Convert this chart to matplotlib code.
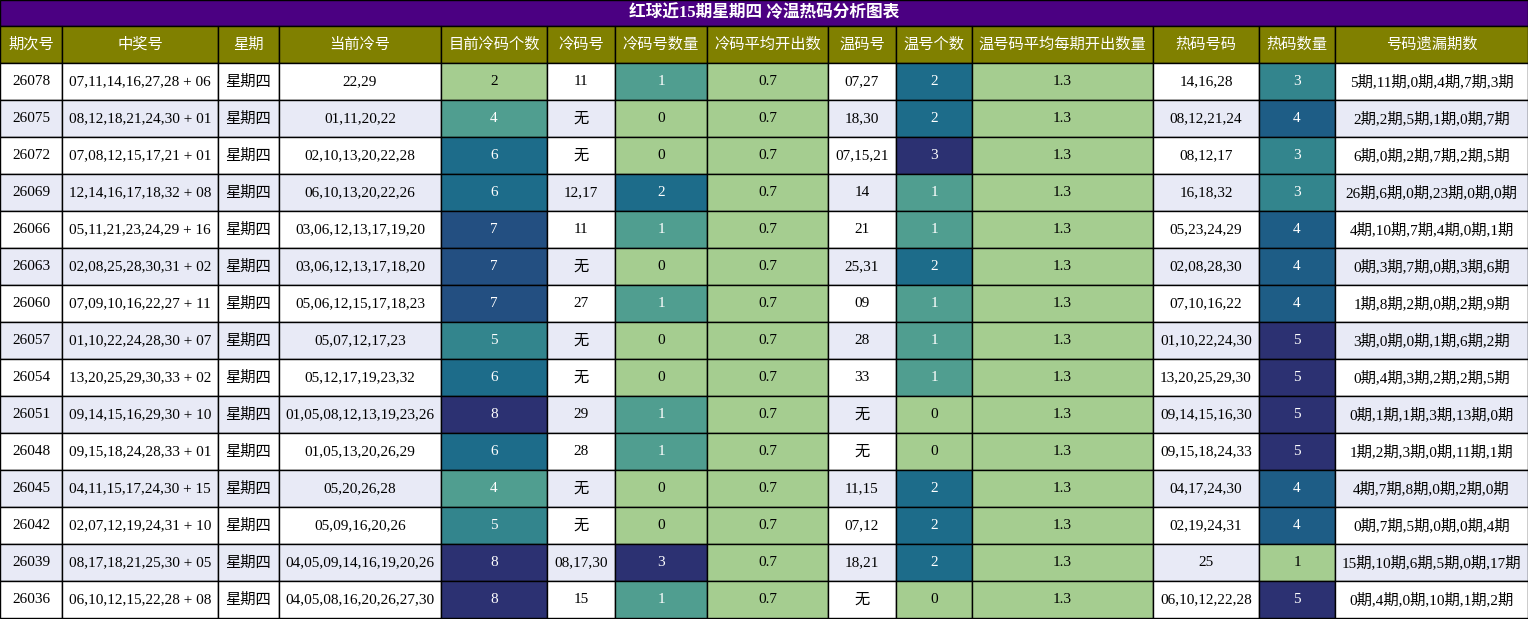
import matplotlib.pyplot as plt
import seaborn as sns
import numpy as np

plt.rcParams['font.family'] = ['Liberation Serif', 'Noto Sans CJK SC', 'DejaVu Sans']

title = "红球近15期星期四 冷温热码分析图表"
headers = ["期次号", "中奖号", "星期", "当前冷号", "目前冷码个数", "冷码号", "冷码号数量",
           "冷码平均开出数", "温码号", "温号个数", "温号码平均每期开出数量", "热码号码", "热码数量", "号码遗漏期数"]
col_edges = [0, 62, 218, 279, 441, 547, 615, 707, 828, 896, 972, 1153, 1259, 1335, 1528]

issues = ["26078", "26075", "26072", "26069", "26066", "26063", "26060", "26057",
          "26054", "26051", "26048", "26045", "26042", "26039", "26036"]
winning = ["07,11,14,16,27,28 + 06", "08,12,18,21,24,30 + 01", "07,08,12,15,17,21 + 01",
           "12,14,16,17,18,32 + 08", "05,11,21,23,24,29 + 16", "02,08,25,28,30,31 + 02",
           "07,09,10,16,22,27 + 11", "01,10,22,24,28,30 + 07", "13,20,25,29,30,33 + 02",
           "09,14,15,16,29,30 + 10", "09,15,18,24,28,33 + 01", "04,11,15,17,24,30 + 15",
           "02,07,12,19,24,31 + 10", "08,17,18,21,25,30 + 05", "06,10,12,15,22,28 + 08"]
weekday = ["星期四"] * 15
cold_now = ["22,29", "01,11,20,22", "02,10,13,20,22,28", "06,10,13,20,22,26",
            "03,06,12,13,17,19,20", "03,06,12,13,17,18,20", "05,06,12,15,17,18,23",
            "05,07,12,17,23", "05,12,17,19,23,32", "01,05,08,12,13,19,23,26",
            "01,05,13,20,26,29", "05,20,26,28", "05,09,16,20,26",
            "04,05,09,14,16,19,20,26", "04,05,08,16,20,26,27,30"]
cold_count = [2, 4, 6, 6, 7, 7, 7, 5, 6, 8, 6, 4, 5, 8, 8]
cold_hit = ["11", "无", "无", "12,17", "11", "无", "27", "无", "无", "29", "28", "无", "无", "08,17,30", "15"]
cold_hit_n = [1, 0, 0, 2, 1, 0, 1, 0, 0, 1, 1, 0, 0, 3, 1]
cold_avg = [0.7] * 15
warm_hit = ["07,27", "18,30", "07,15,21", "14", "21", "25,31", "09", "28", "33", "无", "无",
            "11,15", "07,12", "18,21", "无"]
warm_n = [2, 2, 3, 1, 1, 2, 1, 1, 1, 0, 0, 2, 2, 2, 0]
warm_avg = [1.3] * 15
hot_hit = ["14,16,28", "08,12,21,24", "08,12,17", "16,18,32", "05,23,24,29", "02,08,28,30",
           "07,10,16,22", "01,10,22,24,30", "13,20,25,29,30", "09,14,15,16,30",
           "09,15,18,24,33", "04,17,24,30", "02,19,24,31", "25", "06,10,12,22,28"]
hot_n = [3, 4, 3, 3, 4, 4, 4, 5, 5, 5, 5, 4, 4, 1, 5]
miss = ["5期,11期,0期,4期,7期,3期", "2期,2期,5期,1期,0期,7期", "6期,0期,2期,7期,2期,5期",
        "26期,6期,0期,23期,0期,0期", "4期,10期,7期,4期,0期,1期", "0期,3期,7期,0期,3期,6期",
        "1期,8期,2期,0期,2期,9期", "3期,0期,0期,1期,6期,2期", "0期,4期,3期,2期,2期,5期",
        "0期,1期,1期,3期,13期,0期", "1期,2期,3期,0期,11期,1期", "4期,7期,8期,0期,2期,0期",
        "0期,7期,5期,0期,0期,4期", "15期,10期,6期,5期,0期,17期", "0期,4期,0期,10期,1期,2期"]

columns = [issues, winning, weekday, cold_now, cold_count, cold_hit, cold_hit_n, cold_avg,
           warm_hit, warm_n, warm_avg, hot_hit, hot_n, miss]
heat_cols = {4, 6, 7, 9, 10, 12}

cmap = sns.color_palette("crest", as_cmap=True)
W, H = 1528, 619
fig = plt.figure(figsize=(W / 100, H / 100), dpi=100)
ax = fig.add_axes([0, 0, 1, 1])
ax.set_xlim(0, W)
ax.set_ylim(H, 0)
ax.axis('off')

title_h, head_h, row_h = 26, 37, 37
ax.add_patch(plt.Rectangle((0, 0), W, title_h, fc='#4b0082', ec='black', lw=1))
ax.text(W / 2, title_h / 2, title, color='white', fontsize=12, weight='bold', ha='center', va='center')

for j, name in enumerate(headers):
    x0, x1 = col_edges[j], col_edges[j + 1]
    ax.add_patch(plt.Rectangle((x0, title_h), x1 - x0, head_h, fc='#808000', ec='black', lw=1))
    ax.text((x0 + x1) / 2, title_h + head_h / 2, name, color='white', fontsize=11, ha='center', va='center')

for j, col in enumerate(columns):
    x0, x1 = col_edges[j], col_edges[j + 1]
    if j in heat_cols:
        vals = np.array(col, dtype=float)
        lo, hi = vals.min(), vals.max()
    for i, v in enumerate(col):
        y0 = title_h + head_h + i * row_h
        bg = 'white' if i % 2 == 0 else '#e8eaf6'
        tc = 'black'
        if j in heat_cols:
            t = 0.0 if hi == lo else (float(v) - lo) / (hi - lo)
            bg = cmap(t)
            tc = 'white' if t > 0.2 else 'black'
        ax.add_patch(plt.Rectangle((x0, y0), x1 - x0, row_h, fc=bg, ec='black', lw=1))
        ax.text((x0 + x1) / 2, y0 + row_h / 2, str(v), color=tc, fontsize=11, ha='center', va='center')

fig.savefig("out.png", dpi=100)
